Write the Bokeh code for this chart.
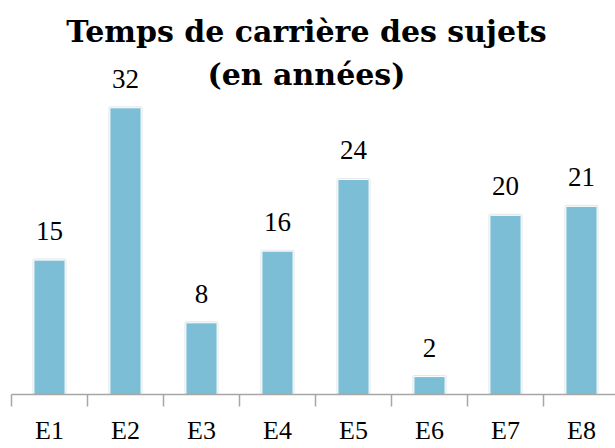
from bokeh.plotting import figure
from bokeh.models import ColumnDataSource, Range1d, FixedTicker, Label
from bokeh.core.properties import value
from bokeh.embed import file_html
from bokeh.resources import INLINE

categories = ["E1", "E2", "E3", "E4", "E5", "E6", "E7", "E8"]
years = [15, 32, 8, 16, 24, 2, 20, 21]
title_line1 = "Temps de carrière des sujets"
title_line2 = "(en années)"

xs = [i + 0.5 for i in range(len(categories))]
src = ColumnDataSource(dict(x=xs, y=years, lab=[str(v) for v in years]))

FW, FH = 604, 394
PX_X, PX_Y = 76, 8.96
p = figure(frame_width=FW, frame_height=FH, output_backend="svg", toolbar_location=None,
           x_range=Range1d(0, FW / PX_X), y_range=Range1d(0, FH / PX_Y),
           min_border_left=11, min_border_right=0, min_border_top=0, min_border_bottom=0)
p.outline_line_color = None
p.grid.visible = False
p.yaxis.visible = False
p.background_fill_color = "white"

# soft shadow behind the bars
p.vbar(x="x", top="y", width=0.41, bottom=0, source=src, fill_color="#e6e6e6",
       line_color="#d0d0d0", line_width=3, line_alpha=0.5, fill_alpha=0.6)
p.vbar(x="x", top="y", width=0.41, bottom=0, source=src, fill_color="#7BBED5",
       line_color="white", line_width=1)
p.text(x="x", y="y", text="lab", source=src, text_align="center",
       text_baseline="alphabetic", y_offset=-29, text_font=value("Liberation Serif"),
       text_font_size="27px", text_color="black")

ax = p.xaxis[0]
ax.ticker = FixedTicker(ticks=xs, minor_ticks=list(range(len(categories) + 1)))
ax.major_label_overrides = {x: c for x, c in zip(xs, categories)}
ax.major_tick_in = 0
ax.major_tick_out = 0
ax.minor_tick_in = 0
ax.minor_tick_out = 12
ax.minor_tick_line_color = "#a6a6a6"
ax.minor_tick_line_width = 1.5
ax.axis_line_color = "#a6a6a6"
ax.axis_line_width = 1.5
ax.major_label_standoff = 9
ax.major_label_text_font = "Liberation Serif"
ax.major_label_text_font_size = "26px"
ax.major_label_text_color = "black"

xmid = 295 / PX_X
for txt, off in [(title_line1, -31), (title_line2, -74)]:
    p.add_layout(Label(x=xmid, y=FH / PX_Y, y_offset=off, text=txt, text_align="center",
                       text_baseline="alphabetic", text_font="DejaVu Serif",
                       text_font_style="bold", text_font_size="30px", text_color="black"))

open("out.html", "w").write(file_html(p, INLINE))
